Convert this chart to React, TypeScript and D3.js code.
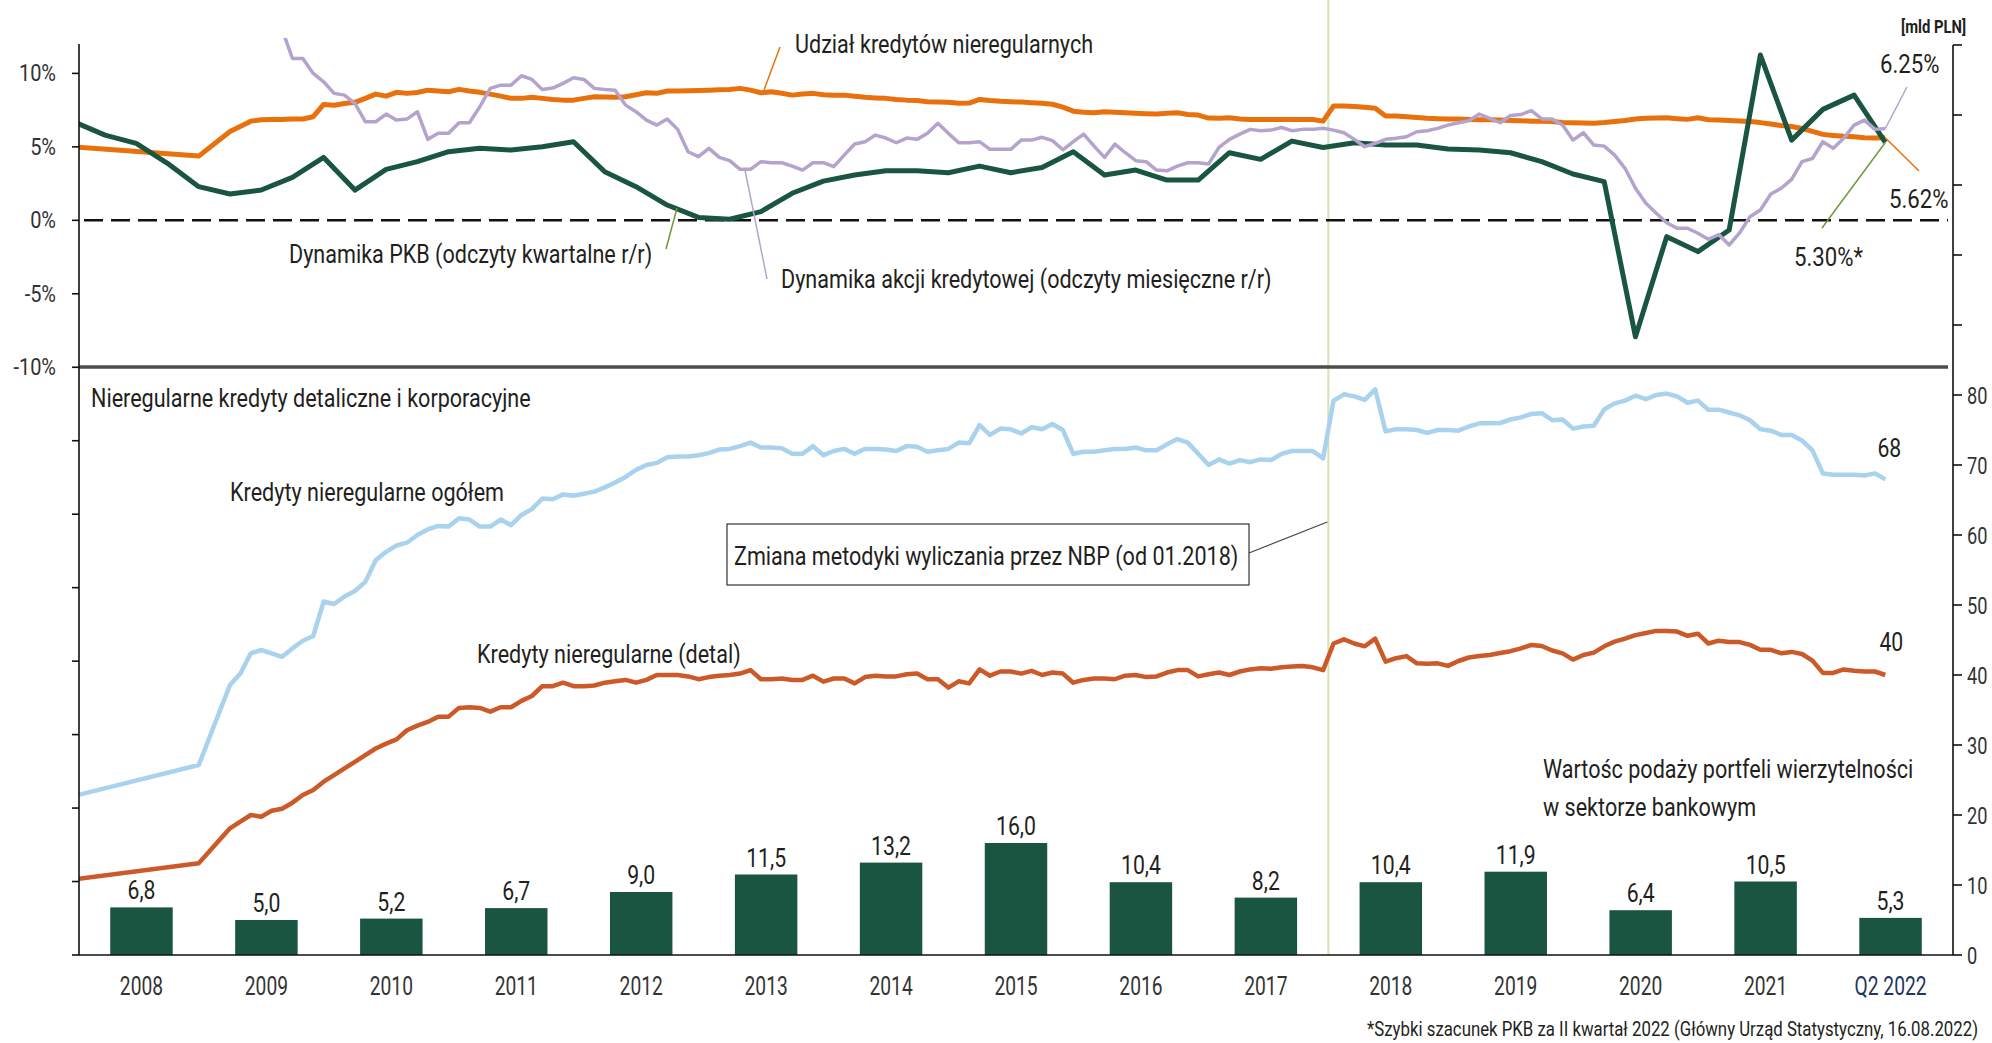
import React from 'react';
import * as d3 from 'd3';

const W = 1992;
const H = 1043;
const FONT = 'Roboto, "Noto Sans", "Liberation Sans", sans-serif';
const INK = '#231f20';

// kategorie osi X (lata) i słupki: wartość podaży portfeli wierzytelności [mld PLN]
const years = ['2008', '2009', '2010', '2011', '2012', '2013', '2014', '2015', '2016', '2017', '2018', '2019', '2020', '2021', 'Q2 2022'];
const portfolioSales = [6.8, 5.0, 5.2, 6.7, 9.0, 11.5, 13.2, 16.0, 10.4, 8.2, 10.4, 11.9, 6.4, 10.5, 5.3];

// indeks miesiąca liczony od stycznia 2008
const mi = (y: number, m: number) => (y - 2008) * 12 + (m - 1);

// Dynamika PKB r/r [%], kwartalnie od Q4 2007 do Q2 2022
const gdp = [
  6.7,
  5.8, 5.24, 3.88, 2.29,
  1.79, 2.06, 2.92, 4.28,
  2.06, 3.47, 3.99, 4.67,
  4.9, 4.78, 5.01, 5.35,
  3.31, 2.29, 1.04, 0.2,
  0.07, 0.59, 1.84, 2.67,
  3.08, 3.37, 3.37, 3.24,
  3.69, 3.24, 3.6, 4.67,
  3.08, 3.42, 2.74, 2.74,
  4.6, 4.15, 5.39, 4.96,
  5.28, 5.12, 5.12, 4.85,
  4.78, 4.6, 3.99, 3.15,
  2.63, -7.92, -1.11, -2.13,
  -0.66, 11.25, 5.46, 7.55,
  8.52, 5.3,
];

// Udział kredytów nieregularnych [%], miesięcznie od 12.2007
const nplShare = [
  5.0,
  null, null, null, null, null, null, null, null, null, null, null, 4.37,
  null, null, 6.05, null, 6.75, 6.85, 6.87, 6.87, 6.9, 6.9, 7.05, 7.89,
  7.83, 7.95, 8.03, 8.3, 8.59, 8.45, 8.71, 8.64, 8.7, 8.86, 8.8, 8.75,
  8.91, 8.8, 8.71, 8.59, 8.45, 8.3, 8.3, 8.37, 8.3, 8.23, 8.18, 8.18,
  8.3, 8.41, 8.39, 8.37, 8.41, 8.55, 8.68, 8.64, 8.8, 8.8, 8.82, 8.84,
  8.86, 8.88, 8.91, 8.98, 8.86, 8.68, 8.75, 8.65, 8.52, 8.6, 8.64, 8.55,
  8.52, 8.52, 8.45, 8.37, 8.33, 8.3, 8.23, 8.18, 8.15, 8.07, 8.05, 8.03,
  7.96, 7.98, 8.23, 8.15, 8.1, 8.07, 8.05, 8.0, 7.96, 7.9, 7.7, 7.43,
  7.35, 7.32, 7.39, 7.36, 7.32, 7.28, 7.25, 7.23, 7.28, 7.32, 7.2, 7.16,
  6.96, 6.94, 6.98, 6.9, 6.87, 6.87, 6.87, 6.87, 6.87, 6.87, 6.86, 6.75,
  7.78, 7.78, 7.75, 7.7, 7.62, 7.1, 7.1, 7.05, 7.0, 6.94, 6.92, 6.9,
  6.9, 6.87, 6.85, 6.84, 6.82, 6.8, 6.78, 6.75, 6.75, 6.72, 6.66, 6.64,
  6.62, 6.6, 6.65, 6.72, 6.8, 6.9, 6.94, 6.96, 6.98, 6.92, 6.87, 6.98,
  6.85, 6.82, 6.8, 6.76, 6.72, 6.65, 6.55, 6.45, 6.38, 6.25, 6.05, 5.85,
  5.78, 5.72, 5.68, 5.62, 5.6, 5.62,
];

// Dynamika akcji kredytowej r/r [%], miesięcznie od 08.2009
const creditGrowth = [
  13.0, 11.02, 11.02, 10.0, 9.43,
  8.64, 8.52, 7.96, 6.71, 6.71, 7.23, 6.82, 6.89, 7.39, 5.51, 5.92, 5.92,
  6.64, 6.64, 7.73, 8.98, 9.2, 9.2, 9.84, 9.59, 8.91, 9.0, 9.32, 9.7,
  9.59, 8.98, 8.9, 8.86, 7.84, 7.39, 6.82, 6.48, 6.89, 6.19, 4.67, 4.33,
  4.9, 4.28, 4.06, 3.47, 3.47, 3.99, 3.92, 3.92, 3.69, 3.42, 3.92, 3.92,
  3.65, 4.44, 5.19, 5.35, 5.8, 5.6, 5.28, 5.6, 5.51, 5.92, 6.6, 5.92,
  5.28, 5.28, 5.35, 4.83, 4.83, 4.83, 5.46, 5.46, 5.65, 5.42, 4.8, 5.35,
  5.87, 5.05, 4.28, 5.19, 4.6, 4.06, 3.99, 3.42, 3.37, 3.69, 3.92, 3.92,
  3.83, 4.96, 5.51, 5.87, 6.19, 6.1, 6.14, 6.32, 6.1, 6.19, 6.19, 6.26,
  6.14, 5.96, 5.51, 5.01, 5.24, 5.51, 5.58, 5.69, 6.03, 6.1, 6.26, 6.48,
  6.64, 6.78, 7.23, 6.94, 6.64, 7.13, 7.2, 7.46, 6.9, 6.9, 6.48, 5.46,
  5.96, 5.12, 5.05, 4.44, 3.54, 2.18, 1.16, 0.48, -0.16, -0.54, -0.54, -0.88,
  -1.29, -0.97, -1.68, -0.86, 0.25, 0.7, 1.79, 2.18, 2.79, 3.99, 4.21, 5.35,
  4.9, 5.58, 6.48, 6.82, 6.19, 6.25,
];

// Kredyty nieregularne ogółem [mld PLN], miesięcznie od 12.2007
const nplTotal = [
  22.7,
  null, null, null, null, null, null, null, null, null, null, null, 27.14,
  null, null, 38.57, 40.2, 43.1, 43.57, 43.1, 42.6, 43.8, 44.9, 45.57, 50.5,
  50.14, 51.2, 52.0, 53.3, 56.4, 57.6, 58.5, 58.9, 60.0, 60.8, 61.3, 61.2,
  62.4, 62.2, 61.2, 61.2, 62.2, 61.4, 62.86, 63.7, 65.2, 65.1, 65.8, 65.6,
  65.9, 66.2, 66.8, 67.5, 68.3, 69.3, 70.0, 70.3, 71.1, 71.2, 71.2, 71.4,
  71.7, 72.2, 72.3, 72.7, 73.2, 72.5, 72.5, 72.4, 71.6, 71.6, 72.7, 71.4,
  72.0, 72.3, 71.6, 72.3, 72.3, 72.2, 72.0, 72.7, 72.6, 71.9, 72.1, 72.3,
  73.2, 73.1, 75.7, 74.3, 75.2, 75.1, 74.5, 75.4, 75.1, 75.86, 75.0, 71.6,
  71.9, 71.9, 72.1, 72.3, 72.3, 72.5, 72.1, 72.1, 72.95, 73.7, 73.2, 71.6,
  70.0, 70.8, 70.2, 70.7, 70.4, 70.8, 70.7, 71.6, 72.0, 72.0, 72.0, 70.95,
  79.2, 80.1, 79.8, 79.3, 80.8, 74.8, 75.1, 75.1, 75.0, 74.6, 75.0, 75.0,
  74.9, 75.5, 75.95, 75.95, 76.0, 76.5, 76.8, 77.3, 77.4, 76.4, 76.5, 75.2,
  75.5, 75.6, 77.95, 78.8, 79.2, 79.9, 79.4, 80.0, 80.2, 79.8, 78.9, 79.2,
  77.9, 77.9, 77.5, 77.1, 76.4, 75.1, 74.9, 74.3, 74.3, 73.5, 72.1, 68.8,
  68.6, 68.6, 68.6, 68.5, 68.8, 67.95,
];

// Kredyty nieregularne (detal) [mld PLN], miesięcznie od 12.2007
const nplRetail = [
  10.8,
  null, null, null, null, null, null, null, null, null, null, null, 13.1,
  null, null, 18.1, 19.05, 20.0, 19.76, 20.6, 20.9, 21.76, 22.86, 23.57, 24.76,
  25.7, 26.67, 27.6, 28.57, 29.5, 30.2, 30.8, 32.1, 32.76, 33.3, 34.05, 34.05,
  35.3, 35.4, 35.3, 34.76, 35.4, 35.4, 36.3, 37.0, 38.4, 38.4, 38.9, 38.4,
  38.4, 38.5, 38.9, 39.1, 39.3, 38.9, 39.3, 40.0, 40.0, 40.0, 39.8, 39.4,
  39.7, 39.9, 40.0, 40.2, 40.7, 39.4, 39.4, 39.5, 39.3, 39.3, 39.9, 39.05,
  39.5, 39.5, 38.8, 39.7, 39.9, 39.8, 39.8, 40.1, 40.2, 39.4, 39.4, 38.2,
  39.1, 38.8, 40.8, 39.9, 40.5, 40.5, 40.2, 40.6, 40.0, 40.35, 40.2, 38.9,
  39.3, 39.5, 39.5, 39.4, 39.9, 40.0, 39.7, 39.8, 40.35, 40.7, 40.7, 39.8,
  40.1, 40.35, 40.0, 40.5, 40.8, 40.95, 40.9, 41.1, 41.2, 41.3, 41.1, 40.7,
  44.5, 45.1, 44.5, 44.1, 45.2, 41.9, 42.4, 42.7, 41.67, 41.6, 41.67, 41.3,
  42.0, 42.5, 42.7, 42.86, 43.15, 43.4, 43.8, 44.3, 44.15, 43.5, 43.1, 42.2,
  42.86, 43.2, 44.1, 44.76, 45.2, 45.7, 46.0, 46.3, 46.3, 46.2, 45.6, 45.9,
  44.5, 44.9, 44.7, 44.7, 44.3, 43.6, 43.6, 43.1, 43.3, 43.0, 42.05, 40.3,
  40.3, 40.8, 40.6, 40.5, 40.5, 40.0,
];

type Pt = { m: number; v: number };

const toPoints = (start: number, vals: (number | null)[], step = 1): Pt[] =>
  vals
    .map((v, i) => ({ m: start + i * step, v }))
    .filter((d) => d.v !== null) as Pt[];

function Label({ x, y, text, size = 26, sx = 0.83, anchor = 'start', fill = INK, weight = 400 }: any) {
  return (
    <text
      transform={`translate(${x},${y}) scale(${sx},1)`}
      fontSize={size}
      fontFamily={FONT}
      fontWeight={weight}
      textAnchor={anchor}
      fill={fill}
    >
      {text}
    </text>
  );
}

export default function App() {
  const x = d3.scaleLinear().domain([-0.5, 179.5]).range([79, 1953]);
  const yL = d3.scaleLinear().domain([-50, 12]).range([955, 44]);
  const yR = d3.scaleLinear().domain([0, 130]).range([955, 45]);
  const band = d3.scaleBand<string>().domain(years).range([79, 1953]).paddingInner(0.5).paddingOuter(0.25);

  const lineL = d3.line<Pt>().x((d) => x(d.m)).y((d) => yL(d.v));
  const lineR = d3.line<Pt>().x((d) => x(d.m)).y((d) => yR(d.v));

  const gdpPts = toPoints(mi(2007, 12), gdp, 3);
  const sharePts = toPoints(mi(2007, 12), nplShare);
  const creditPts = toPoints(mi(2009, 8), creditGrowth);
  const totalPts = toPoints(mi(2007, 12), nplTotal);
  const retailPts = toPoints(mi(2007, 12), nplRetail);

  const lastX = x(mi(2022, 6));
  const xMethod = x(mi(2018, 1) - 0.5);
  const leftTicks = d3.range(-50, 11, 5);
  const rightTicks = d3.range(0, 131, 10);
  const fmt = (v: number) => v.toFixed(1).replace('.', ',');

  const lastTotal = totalPts[totalPts.length - 1];
  const lastRetail = retailPts[retailPts.length - 1];

  return (
    <svg
      width={W}
      height={H}
      style={{ position: 'absolute', left: 0, top: 0, background: '#fff' }}
    >
      <defs>
        <clipPath id="clipTop">
          <rect x={79} y={38} width={1874} height={329} />
        </clipPath>
        <clipPath id="clipBottom">
          <rect x={79} y={367} width={1874} height={588} />
        </clipPath>
      </defs>

      {/* linia zmiany metodyki */}
      <line x1={xMethod} x2={xMethod} y1={0} y2={955} stroke="#d3e3b3" strokeWidth={2} />

      {/* słupki */}
      {years.map((yr, i) => (
        <g key={yr}>
          <rect
            x={band(yr)!}
            y={yR(portfolioSales[i])}
            width={band.bandwidth()}
            height={yR(0) - yR(portfolioSales[i])}
            fill="#1a5542"
          />
          <Label x={band(yr)! + band.bandwidth() / 2} y={yR(portfolioSales[i]) - 8} text={fmt(portfolioSales[i])} anchor="middle" size={26.5} sx={0.8} />
          <Label
            x={band(yr)! + band.bandwidth() / 2}
            y={995}
            text={yr}
            anchor="middle"
            sx={0.74}
            fill={yr.startsWith('Q') ? '#1f3461' : '#333'}
          />
        </g>
      ))}

      {/* linia zera */}
      <line x1={84} x2={1948} y1={yL(0)} y2={yL(0)} stroke="#111" strokeWidth={2.6} strokeDasharray="19 8" />

      {/* górny panel */}
      <g clipPath="url(#clipTop)" fill="none" strokeLinejoin="round">
        <path d={lineL(sharePts)!} stroke="#e8710d" strokeWidth={5} />
        <path d={lineL(gdpPts)!} stroke="#1a5542" strokeWidth={5} />
        <path d={lineL(creditPts)!} stroke="#b4a3cd" strokeWidth={3.5} />
      </g>

      {/* dolny panel */}
      <g clipPath="url(#clipBottom)" fill="none" strokeLinejoin="round">
        <path d={lineR(totalPts)!} stroke="#a9d2ee" strokeWidth={4.5} />
        <path d={lineR(retailPts)!} stroke="#cc5a28" strokeWidth={4.5} />
      </g>

      {/* separator paneli */}
      <line x1={79} x2={1948} y1={367} y2={367} stroke="#4d4d4d" strokeWidth={3.5} />

      {/* osie */}
      <line x1={79} x2={79} y1={44} y2={955} stroke="#111" strokeWidth={1.6} />
      <line x1={1953} x2={1953} y1={45} y2={955} stroke="#111" strokeWidth={1.6} />
      <line x1={79} x2={1953} y1={955} y2={955} stroke="#111" strokeWidth={1.6} />
      {leftTicks.map((t) => (
        <g key={'l' + t}>
          <line x1={72} x2={79} y1={yL(t)} y2={yL(t)} stroke="#111" strokeWidth={1.6} />
          {t >= -10 && <Label x={56} y={yL(t) + 8} text={`${t}%`} anchor="end" size={23.5} sx={0.85} fill="#333" />}
        </g>
      ))}
      {rightTicks.map((t) => (
        <g key={'r' + t}>
          <line x1={1953} x2={1962} y1={yR(t)} y2={yR(t)} stroke="#111" strokeWidth={1.6} />
          {t <= 80 && <Label x={1967} y={yR(t) + 8.5} text={String(t)} size={24} sx={0.76} fill="#333" />}
        </g>
      ))}
      <Label x={1966} y={33} text="[mld PLN]" anchor="end" size={19} sx={0.78} weight={700} />

      {/* opisy górnego panelu */}
      <line x1={780} y1={47} x2={764} y2={90} stroke="#e8710d" strokeWidth={1.5} />
      <Label x={795} y={53} text="Udział kredytów nieregularnych" />
      <line x1={666} y1={249} x2={677} y2={208} stroke="#6f9a3b" strokeWidth={1.5} />
      <Label x={289} y={263} text="Dynamika PKB (odczyty kwartalne r/r)" />
      <line x1={745} y1={170} x2={767} y2={279} stroke="#b4a3cd" strokeWidth={1.5} />
      <Label x={781} y={288} text="Dynamika akcji kredytowej (odczyty miesięczne r/r)" />

      <line x1={1907} y1={87} x2={lastX} y2={yL(6.25)} stroke="#b4a3cd" strokeWidth={1.5} />
      <Label x={1880} y={73} text="6.25%" size={25.8} sx={0.86} />
      <line x1={lastX} y1={yL(5.62)} x2={1919} y2={171} stroke="#e8710d" strokeWidth={1.5} />
      <Label x={1889} y={208} text="5.62%" size={25.8} sx={0.86} />
      <line x1={1822} y1={228} x2={lastX} y2={yL(5.3)} stroke="#6f9a3b" strokeWidth={1.5} />
      <Label x={1794} y={266} text="5.30%*" size={25.8} sx={0.86} />

      {/* opisy dolnego panelu */}
      <Label x={91} y={407} text="Nieregularne kredyty detaliczne i korporacyjne" />
      <Label x={230} y={501} text="Kredyty nieregularne ogółem" />
      <Label x={477} y={663} text="Kredyty nieregularne (detal)" />
      <Label x={x(lastTotal.m) + 4} y={yR(lastTotal.v) - 22} text={String(Math.round(lastTotal.v))} anchor="middle" size={26.5} sx={0.8} />
      <Label x={x(lastRetail.m) + 6} y={yR(lastRetail.v) - 24} text={String(Math.round(lastRetail.v))} anchor="middle" size={26.5} sx={0.8} />

      <rect x={727} y={524} width={522} height={61} fill="#fff" stroke="#333" strokeWidth={1.2} />
      <Label x={734} y={565} text="Zmiana metodyki wyliczania przez NBP (od 01.2018)" />
      <line x1={1249} y1={553} x2={xMethod - 1} y2={522} stroke="#444" strokeWidth={1.2} />

      <Label x={1543} y={778} text="Wartośc podaży portfeli wierzytelności" />
      <Label x={1543} y={816} text="w sektorze bankowym" />

      <Label
        x={1978}
        y={1036}
        text="*Szybki szacunek PKB za II kwartał 2022 (Główny Urząd Statystyczny, 16.08.2022)"
        anchor="end"
        size={21}
        sx={0.8}
      />
    </svg>
  );
}
